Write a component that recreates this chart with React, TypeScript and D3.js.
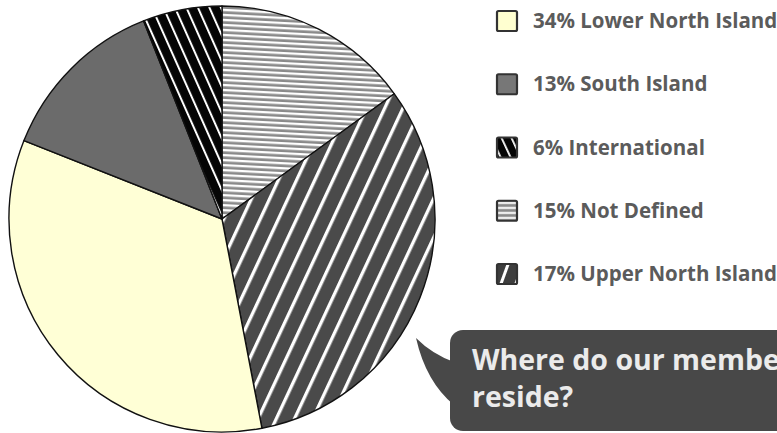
import React from "react";
import * as d3 from "d3";

// Pie slices, clockwise from 12 o'clock
const sliceNames = ["Not Defined", "Upper North Island", "Lower North Island", "South Island", "International"];
const sliceValues = [15, 32, 34, 13, 6];
const sliceFills = ["url(#pNotDef)", "url(#pUpper)", "#ffffd6", "#6b6b6b", "url(#pIntl)"];

// Legend (as printed)
const legendNames = ["Lower North Island", "South Island", "International", "Not Defined", "Upper North Island"];
const legendPct = ["34%", "13%", "6%", "15%", "17%"];
const legendFills = ["#ffffd0", "#777777", "url(#iIntl)", "url(#iNotDef)", "url(#iUpper)"];

const calloutLines = ["Where do our members", "reside?"];

const W = 777;
const H = 433;

export default function App() {
  const cx = 222, cy = 219, r = 213;
  const pie = d3.pie<number>().sort(null).value((d) => d).startAngle(0).endAngle(2 * Math.PI);
  const arcs = pie(sliceValues);
  const arc = d3.arc<d3.PieArcDatum<number>>().innerRadius(0).outerRadius(r);

  const legendY = d3.scalePoint<number>().domain(d3.range(legendNames.length)).range([21, 274]);
  const font = "'Open Sans', 'DejaVu Sans', sans-serif";

  return (
    <svg width={W} height={H} style={{ position: "absolute", left: 0, top: 0, overflow: "hidden", background: "#fff" }}>
      <defs>
        <pattern id="pNotDef" patternUnits="userSpaceOnUse" width="20" height="5" patternTransform="rotate(3)">
          <rect width="20" height="5" fill="#8a8a8a" />
          <rect y="0" width="20" height="2.3" fill="#ffffff" />
        </pattern>
        <pattern id="pUpper" patternUnits="userSpaceOnUse" width="16.5" height="20" patternTransform="rotate(25)">
          <rect width="16.5" height="20" fill="#4a4a4a" />
          <rect x="0" width="3.3" height="20" fill="#ffffff" />
        </pattern>
        <pattern id="pIntl" patternUnits="userSpaceOnUse" width="10.5" height="20" patternTransform="rotate(-24)">
          <rect width="10.5" height="20" fill="#050505" />
          <rect x="0" width="2" height="20" fill="#ffffff" />
        </pattern>
        <pattern id="iNotDef" patternUnits="userSpaceOnUse" width="20" height="5">
          <rect width="20" height="5" fill="#8a8a8a" />
          <rect y="1.2" width="20" height="2" fill="#ffffff" />
        </pattern>
        <pattern id="iUpper" patternUnits="userSpaceOnUse" x="2" width="14" height="20" patternTransform="rotate(20)">
          <rect width="14" height="20" fill="#3e3e3e" />
          <rect x="7" width="3" height="20" fill="#ffffff" />
        </pattern>
        <pattern id="iIntl" patternUnits="userSpaceOnUse" width="9" height="20" patternTransform="rotate(-25)">
          <rect width="9" height="20" fill="#050505" />
          <rect x="3" width="1.8" height="20" fill="#ffffff" />
        </pattern>
      </defs>

      <g transform={`translate(${cx},${cy})`}>
        {arcs.map((a, i) => (
          <path key={sliceNames[i]} d={arc(a) || ""} fill={sliceFills[i]} stroke="#111" strokeWidth={1.4} strokeLinejoin="round" />
        ))}
      </g>

      {legendNames.map((name, i) => {
        const y = legendY(i) as number;
        return (
          <g key={name} transform={`translate(497,${y - 10})`}>
            <rect x={0} y={0} width={20} height={20} fill={legendFills[i]} stroke="#333" strokeWidth={2.2} rx={1.5} />
            <text x={36} y={17} fontFamily={font} fontWeight={700} fontSize={20.5} fill="#5b5b5b">
              {`${legendPct[i]} ${name}`}
            </text>
          </g>
        );
      })}

      <g>
        <path d="M416,338 Q432,354 454,362 L454,405 Q426,382 416,338 Z" fill="#484848" />
        <rect x={450} y={330} width={360} height={101} rx={13} fill="#484848" />
        {calloutLines.map((t, i) => (
          <text key={t} x={472} y={370 + i * 37} fontFamily={font} fontWeight={700} fontSize={28.5} fill="#ebebeb">
            {t}
          </text>
        ))}
      </g>
    </svg>
  );
}
